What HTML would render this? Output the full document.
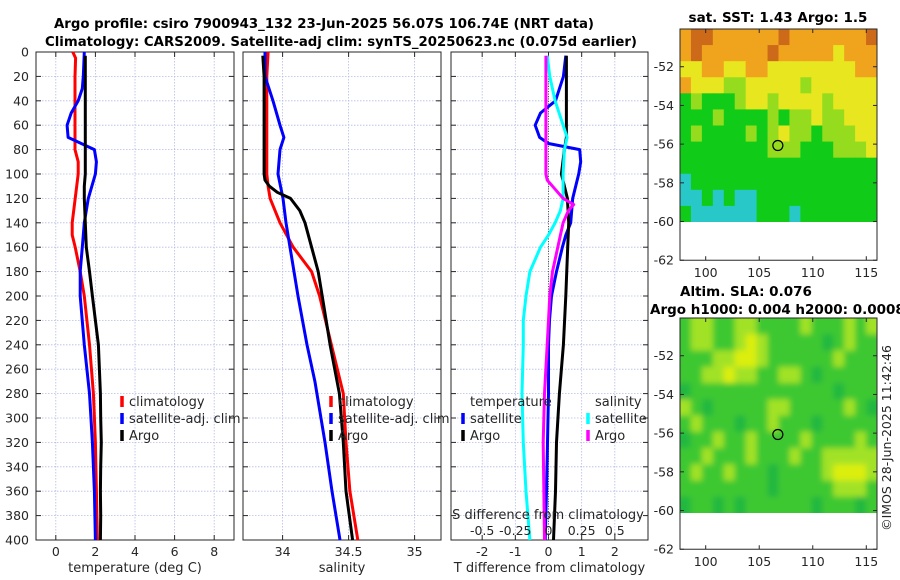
<!DOCTYPE html>
<html><head><meta charset="utf-8">
<style>
html,body{margin:0;padding:0;background:#fff;}
svg{display:block;font-family:"DejaVu Sans","Liberation Sans",sans-serif;}
</style></head>
<body>
<svg id="fig" width="900" height="580" viewBox="0 0 900 580" xmlns="http://www.w3.org/2000/svg">
<defs><filter id="mapblur" x="-5%" y="-5%" width="110%" height="110%"><feGaussianBlur stdDeviation="3"/></filter></defs>
<g id="titles">
<text x="324" y="28" text-anchor="middle" font-size="13.5" font-weight="bold" fill="#000" textLength="540" lengthAdjust="spacingAndGlyphs">Argo profile: csiro 7900943_132 23-Jun-2025 56.07S 106.74E (NRT data)</text>
<text x="341" y="46" text-anchor="middle" font-size="13.5" font-weight="bold" fill="#000" textLength="592" lengthAdjust="spacingAndGlyphs">Climatology: CARS2009. Satellite-adj clim: synTS_20250623.nc (0.075d earlier)</text>
<text x="778" y="22" text-anchor="middle" font-size="13.5" font-weight="bold">sat. SST: 1.43 Argo: 1.5</text>
<text x="680" y="296" font-size="13.5" font-weight="bold">Altim. SLA: 0.076</text>
<text x="650" y="314" font-size="13.5" font-weight="bold">Argo h1000: 0.004 h2000: 0.00083</text>
<text transform="translate(891,438) rotate(-90)" text-anchor="middle" font-size="12.5" fill="#262626">©IMOS 28-Jun-2025 11:42:46</text>
</g>
<g id="plots"></g>
</svg>
<script>
// ---------- profile data (depth in dbar) ----------
const climTDepth = [0,5,20,40,60,80,90,100,120,140,150,160,180,200,240,280,320,360,400];
const climTVal   = [0.86,1.0,0.97,0.97,0.97,0.97,1.13,1.13,0.98,0.83,0.83,0.98,1.23,1.44,1.7,1.9,2.0,2.05,2.1];
const satTDepth  = [0,20,30,40,50,60,70,80,90,100,120,140,160,180,200,240,280,320,360,400];
const satTVal    = [1.44,1.39,1.34,1.13,0.78,0.57,0.62,1.95,2.05,2.0,1.64,1.44,1.34,1.23,1.23,1.44,1.7,1.85,1.95,2.0];
const argoTDepth = [3,20,40,60,80,100,110,120,140,160,180,200,220,240,260,280,300,320,340,360,380,400];
const argoTVal   = [1.49,1.49,1.49,1.49,1.49,1.49,1.44,1.44,1.49,1.54,1.7,1.85,2.0,2.15,2.2,2.25,2.27,2.3,2.27,2.25,2.27,2.25];

const climSDepth = [0,20,60,100,110,120,140,160,180,200,240,280,320,360,400];
const climSVal   = [33.89,33.88,33.88,33.88,33.89,33.905,33.98,34.08,34.22,34.28,34.37,34.46,34.48,34.51,34.57];
const satSDepth  = [0,20,40,60,70,80,100,120,140,160,200,240,270,320,360,400];
const satSVal    = [33.867,33.867,33.927,33.98,34.01,33.98,33.965,34.003,34.026,34.056,34.117,34.185,34.245,34.321,34.374,34.435];
const argoSDepth = [3,20,60,100,105,110,115,120,130,140,160,180,200,240,280,320,360,400];
const argoSVal   = [33.85,33.86,33.86,33.86,33.867,33.9,33.96,34.06,34.13,34.17,34.22,34.27,34.3,34.36,34.43,34.46,34.48,34.53];

const dTDepth     = [3,20,40,50,60,70,75,80,90,100,120,140,150,160,180,200,220,240,280,320,360,400];
const dTSatVal    = [0.52,0.45,0.21,-0.24,-0.4,-0.27,0.0,0.94,0.97,0.91,0.73,0.67,0.52,0.42,0.24,0.09,0.03,0.0,0.0,-0.03,-0.06,-0.1];
const dTArgoDepth = [3,20,40,60,70,80,100,120,140,160,200,240,280,320,360,400];
const dTArgoVal   = [0.54,0.54,0.54,0.54,0.54,0.48,0.39,0.57,0.61,0.58,0.52,0.45,0.33,0.24,0.21,0.15];
const dSDepth     = [3,20,40,60,70,80,100,120,130,140,150,160,180,200,220,240,280,320,360,400];
const dSSatVal    = [-0.01,0.01,0.05,0.11,0.14,0.12,0.11,0.11,0.09,0.05,0.0,-0.06,-0.14,-0.17,-0.19,-0.19,-0.2,-0.19,-0.17,-0.14];
const dSArgoDepth = [3,20,60,100,105,110,115,120,125,130,140,160,180,200,240,280,320,400];
const dSArgoVal   = [-0.02,-0.02,-0.02,-0.02,-0.01,0.03,0.07,0.11,0.19,0.15,0.11,0.07,0.03,0.01,-0.01,-0.03,-0.04,-0.03];

const depthTicks = [0,20,40,60,80,100,120,140,160,180,200,220,240,260,280,300,320,340,360,380,400];
const tTicks = [0,2,4,6,8];
const sTicks = [34,34.5,35];
const dTTicks = [-2,-1,0,1,2];
const dSTicks = [-0.5,-0.25,0,0.25,0.5];
const dSTickLabels = ["-0.5","-0.25","0","0.25","0.5"];

// ---------- map data (coarse grids, class values) ----------
const sstGrid = [
"455444444544444445",
"454444445444443444",
"334433443333333344",
"433322333332333333",
"121112332333323333",
"111211112122322333",
"121111212322122233",
"111111112221112223",
"111111111111111111",
"011111111111111111",
"001010011111111111",
"100000011101111111"];
const slaGrid = [
"122112211112111212",
"122112321111101211",
"111223321111112111",
"112232211221011111",
"011111111111110111",
"210111112211111210",
"121110112111011111",
"011211211112111121",
"112111211121122222",
"121121110111123332",
"111111110111112221",
"011010111111011101"];
const sstColors = ["#28c8c8","#10cc18","#96dc1e","#e8e61e","#f0a41e","#cc6a1a"];
const slaColors = ["#20b840","#3cc832","#a2e228","#dcee10"];
const lonTicks = [100,105,110,115];
const latTicks = [-52,-54,-56,-58,-60,-62];
const argoLon = 106.74, argoLat = -56.07;

// ---------- helpers ----------
const NS = "http://www.w3.org/2000/svg";
const root = document.getElementById('plots');
function mk(tag, attrs, parent){
  const e = document.createElementNS(NS, tag);
  for (const k in attrs) e.setAttribute(k, attrs[k]);
  (parent||root).appendChild(e);
  return e;
}
const Y0 = 52, YS = 488/400;
const yD = d => Y0 + d*YS;
const TXT = "#262626";

function panel(name, x0, x1, xmin, xmax, xticks, xlabels, xtitle, showY){
  const g = mk('g', {});
  
  
  const sx = v => x0 + (v - xmin)/(xmax - xmin)*(x1 - x0);
  xticks.forEach(t => {
    const l = mk('line', {x1:sx(t), x2:sx(t), y1:Y0, y2:540, stroke:"#b4bce4", "stroke-width":0.8, "stroke-dasharray":"1.5,1.5"}, g);
    
    
  });
  depthTicks.forEach(d => {
    if (d===0||d===400) return;
    const l = mk('line', {x1:x0, x2:x1, y1:yD(d), y2:yD(d), stroke:"#b4bce4", "stroke-width":0.8, "stroke-dasharray":"1.5,1.5"}, g);
    
    
    mk('line', {x1:x0, x2:x0+5, y1:yD(d), y2:yD(d), stroke:"#262626"}, g);
    mk('line', {x1:x1-5, x2:x1, y1:yD(d), y2:yD(d), stroke:"#262626"}, g);
  });
  xticks.forEach((t,i) => {
    mk('line', {x1:sx(t), x2:sx(t), y1:540, y2:535, stroke:"#262626"}, g);
    mk('line', {x1:sx(t), x2:sx(t), y1:Y0, y2:Y0+5, stroke:"#262626"}, g);
    const tx = mk('text', {x:sx(t), y:556, "text-anchor":"middle", "font-size":12.5, fill:TXT}, g);
    tx.textContent = xlabels[i];
    
    
  });
  if (showY) depthTicks.forEach(d => {
    const tx = mk('text', {x:x0-7, y:yD(d)+4.5, "text-anchor":"end", "font-size":12.5, fill:TXT}, g);
    tx.textContent = d;
    
    
  });
  const tt = mk('text', {x:(x0+x1)/2, y:572, "text-anchor":"middle", "font-size":13, fill:TXT}, g);
  tt.textContent = xtitle;
  
  
  const fr = mk('rect', {x:x0, y:Y0, width:x1-x0, height:540-Y0, fill:"none", stroke:"#262626", "stroke-width":1}, g);
  
  
  return {g, sx};
}
function line(p, depths, vals, color, name, sx){
  const pts = depths.map((d,i) => (sx||p.sx)(vals[i]).toFixed(1)+","+yD(d).toFixed(1)).join(" ");
  const e = mk('polyline', {points:pts, fill:"none", stroke:color, "stroke-width":3, "stroke-linejoin":"round"}, p.g);
  
  
}
function legendItem(g, x, y, color, label, name){
  const e = mk('g', {}, g);
  
  
  if (color) mk('line', {x1:x, x2:x, y1:y-10, y2:y+1, stroke:color, "stroke-width":3.5}, e);
  const t = mk('text', {x:x+7, y:y, "font-size":13, fill:TXT}, e);
  t.textContent = label;
}

const p1 = panel('temperature-panel', 36, 234, -1, 9, tTicks, tTicks.map(String), 'temperature (deg C)', true);
line(p1, climTDepth, climTVal, "#ff0000", 'temp-climatology-line');
line(p1, satTDepth, satTVal, "#0000ff", 'temp-satellite-line');
line(p1, argoTDepth, argoTVal, "#000000", 'temp-argo-line');
legendItem(p1.g, 122, 406, "#ff0000", "climatology", 'legend-climatology');
legendItem(p1.g, 122, 423, "#0000ff", "satellite-adj. clim", 'legend-satellite');
legendItem(p1.g, 122, 440, "#000000", "Argo", 'legend-argo');

const p2 = panel('salinity-panel', 243, 441, 33.7, 35.2, sTicks, ["34","34.5","35"], 'salinity', false);
line(p2, climSDepth, climSVal, "#ff0000", 'sal-climatology-line');
line(p2, satSDepth, satSVal, "#0000ff", 'sal-satellite-line');
line(p2, argoSDepth, argoSVal, "#000000", 'sal-argo-line');
legendItem(p2.g, 331, 406, "#ff0000", "climatology", 'legend-climatology');
legendItem(p2.g, 331, 423, "#0000ff", "satellite-adj. clim", 'legend-satellite');
legendItem(p2.g, 331, 440, "#000000", "Argo", 'legend-argo');

const p3 = panel('difference-panel', 451, 648, -2.94, 3.0, dTTicks, dTTicks.map(String), 'T difference from climatology', false);
const sxS = v => p3.sx(v*4);
const zl = mk('line', {x1:p3.sx(0), x2:p3.sx(0), y1:Y0+14, y2:540, stroke:"#555", "stroke-width":1, "stroke-dasharray":"1,1.5"}, p3.g);


line(p3, dTDepth, dTSatVal, "#0000ff", 'dT-satellite-line');
line(p3, dTArgoDepth, dTArgoVal, "#000000", 'dT-argo-line');
line(p3, dSDepth, dSSatVal, "#00ffff", 'dS-satellite-line', sxS);
line(p3, dSArgoDepth, dSArgoVal, "#ff00ff", 'dS-argo-line', sxS);
{
  const t = mk('text', {x:470, y:406, "font-size":13, fill:TXT}, p3.g); t.textContent = "temperature";
   
  const s = mk('text', {x:595, y:406, "font-size":13, fill:TXT}, p3.g); s.textContent = "salinity";
   
}
legendItem(p3.g, 463, 423, "#0000ff", "satellite", 'legend-dT-satellite');
legendItem(p3.g, 463, 440, "#000000", "Argo", 'legend-dT-argo');
legendItem(p3.g, 588, 423, "#00ffff", "satellite", 'legend-dS-satellite');
legendItem(p3.g, 588, 440, "#ff00ff", "Argo", 'legend-dS-argo');
{
  const t = mk('text', {x:548, y:519, "text-anchor":"middle", "font-size":13, fill:TXT}, p3.g);
  t.textContent = "S difference from climatology";
   
  dSTicks.forEach((v,i) => {
    const tx = mk('text', {x:sxS(v), y:535, "text-anchor":"middle", "font-size":12.5, fill:TXT}, p3.g);
    tx.textContent = dSTickLabels[i];
    
    
  });
}

function mapPanel(name, top, grid, colors, dataBottom, blur){
  const g = mk('g', {});
  
  
  const L = 680, R = 877, lonMin = 97.6, lonMax = 116.0;
  const sx = lon => L + (lon-lonMin)/(lonMax-lonMin)*(R-L);
  const sy = lat => top + (-50.05 - lat)*19.35;
  const bottom = sy(-62);
  const rows = grid.length, cols = grid[0].length;
  const cw = (R-L)/cols, ch = (dataBottom-top)/rows;
  const id = name+'-clip';
  const cp = mk('clipPath', {id:id}, g);
  mk('rect', {x:L, y:top, width:R-L, height:dataBottom-top}, cp);
  const img = mk('g', {"clip-path":"url(#"+id+")"}, g);
  
  
  const inner = mk('g', blur ? {filter:"url(#mapblur)"} : {}, img);
  for (let r=0;r<rows;r++) for (let c=0;c<cols;c++){
    const v = +grid[r][c];
    const ex = blur && c===0 ? 8 : 0, ey = blur && r===0 ? 8 : 0;
    const cell = mk('rect', {x:(L+c*cw-ex).toFixed(2), y:(top+r*ch-ey).toFixed(2), width:(cw+0.6+ex+(blur&&c===cols-1?8:0)).toFixed(2), height:(ch+0.6+ey+(blur&&r===rows-1?8:0)).toFixed(2), fill:colors[v]}, inner);
    
    
  }
  latTicks.forEach(lat => {
    mk('line', {x1:L, x2:L+4, y1:sy(lat), y2:sy(lat), stroke:"#262626"}, g);
    mk('line', {x1:R-4, x2:R, y1:sy(lat), y2:sy(lat), stroke:"#262626"}, g);
    const t = mk('text', {x:L-6, y:sy(lat)+4.5, "text-anchor":"end", "font-size":12.5, fill:TXT}, g);
    t.textContent = lat;
    
    
  });
  lonTicks.forEach(lon => {
    mk('line', {x1:sx(lon), x2:sx(lon), y1:bottom, y2:bottom-4, stroke:"#262626"}, g);
    mk('line', {x1:sx(lon), x2:sx(lon), y1:top, y2:top+4, stroke:"#262626"}, g);
    const t = mk('text', {x:sx(lon), y:bottom+17, "text-anchor":"middle", "font-size":12.5, fill:TXT}, g);
    t.textContent = lon;
    
    
  });
  const fr = mk('rect', {x:L, y:top, width:R-L, height:bottom-top, fill:"none", stroke:"#262626"}, g);
  
  
  const m = mk('circle', {cx:sx(argoLon), cy:sy(argoLat), r:5, fill:"none", stroke:"#000", "stroke-width":1.2}, g);
  
  
}
mapPanel('sst-map', 29, sstGrid, sstColors, 222, false);
mapPanel('sla-map', 318, slaGrid, slaColors, 513, true);
</script>
</body></html>
